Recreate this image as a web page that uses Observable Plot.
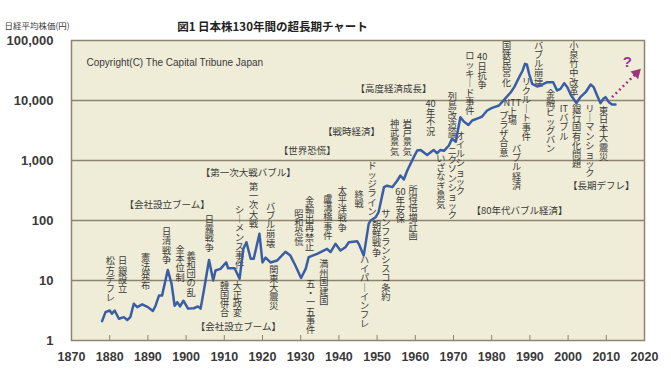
<!DOCTYPE html>
<html>
<head>
<meta charset="utf-8">
<script src="https://cdn.jsdelivr.net/npm/d3@7"></script>
<script src="https://cdn.jsdelivr.net/npm/@observablehq/plot@0.6"></script>
<style>
  html, body { margin: 0; padding: 0; background: #ffffff; }
  #chart svg { display: block; }
</style>
</head>
<body>
<div id="chart"></div>
<script>
// ---- series: Nikkei-style long-term index (yen) ----
const years = [1878.0,1878.9,1880.0,1880.6,1881.3,1882.4,1883.7,1884.6,1885.4,1886.3,1887.2,1888.5,1890.0,1891.3,1892.0,1892.9,1893.7,1895.2,1896.2,1897.0,1897.7,1898.4,1899.3,1900.5,1902.0,1903.1,1903.8,1904.8,1906.0,1907.1,1907.7,1909.0,1910.5,1911.0,1912.7,1914.0,1915.0,1915.8,1916.9,1917.7,1919.2,1920.0,1920.8,1922.1,1923.8,1926.0,1927.3,1928.6,1930.1,1931.3,1932.1,1934.3,1936.9,1937.8,1939.1,1940.4,1941.7,1942.6,1944.8,1945.2,1946.5,1947.8,1948.3,1949.6,1950.4,1951.8,1952.6,1954.0,1955.3,1956.1,1957.0,1957.9,1959.6,1960.5,1961.4,1963.1,1964.8,1965.7,1966.6,1967.5,1968.8,1969.6,1970.6,1971.8,1972.7,1973.9,1974.9,1976.7,1977.5,1978.8,1980.1,1981.9,1982.7,1985.0,1985.9,1987.2,1988.1,1988.7,1989.2,1989.8,1990.6,1991.9,1992.8,1994.5,1996.1,1997.1,1998.0,1999.0,1999.8,2000.8,2002.2,2003.2,2004.6,2005.9,2006.7,2007.6,2008.5,2009.2,2009.8,2010.7,2011.5,2012.4];
const values = [2.1,2.97,3.16,2.8,3.16,2.3,2.45,2.2,2.45,4.1,3.6,4.0,3.6,3.1,3.8,5.6,5.6,15,8.8,3.8,4.35,3.7,4.6,3.4,3.45,3.7,3.4,7.7,22,10,14.7,15.6,20,16,16,10.7,34,43.5,23,23,60,20,24,20,21.5,30,26,17.8,11,15.6,24.5,27.8,33.7,29.6,40.8,31.6,35.9,43.5,45,40.8,26,88,100,113,138,360,380,360,464,562,482,681,1137,1468,1500,1240,1500,1320,1500,1450,1778,2300,2050,5270,4450,3900,4640,5140,5410,6810,7550,8250,9370,13750,16680,24500,31600,40800,40000,27800,18970,17100,17780,20200,20200,14680,15650,19450,16680,12110,9030,11370,13750,18470,16680,12110,9030,10670,11370,9370,8580,8580];

// ---- axes ----
const xTicks = [1870,1880,1890,1900,1910,1920,1930,1940,1950,1960,1970,1980,1990,2000,2010,2020];
const yTicks = [1,10,100,1000,10000,100000];
const gridTicks = [10,100,1000,10000];

// ---- texts ----
const titleText = "図1 日本株130年間の超長期チャート";
const yUnitText = "日経平均株価(円)";
const copyrightText = "Copyright(C) The Capital Tribune Japan";

// vertical event labels: label, year, log10(value) at top of column
const vLabels = ["松方デフレ","日銀設立","憲法発布","日清戦争","金本位制","義和団の乱","日露戦争","韓国併合","大正政変","シーメンス事件","第一次大戦","バブル崩壊","関東大震災","昭和恐慌","金輸出再禁止","五・一五事件","盧溝橋事件","満州国建国","太平洋戦争","終戦","ハイパーインフレ","ドッジライン","朝鮮戦争","サンフランシスコ条約","神武景気","岩戸景気","60年安保","所得倍増計画","40年不況","いざなぎ景気","列島改造論","ニクソンショック","オイルショック","ロッキード事件","40日抗争","国鉄民営化","プラザ合意","NTT上場","バブル経済","リクルート事件","バブル崩壊","金融ビッグバン","ITバブル","小泉竹中改革","銀行国有化問題","リーマンショック","東日本大震災"];
const vYears = [1880.2,1883.4,1889.4,1894.9,1898.4,1901.3,1906.1,1910.05,1913.4,1914.0,1917.7,1922.1,1923.0,1929.5,1932.3,1932.6,1937.1,1936.05,1940.9,1945.3,1946.7,1948.7,1949.9,1952.3,1954.6,1957.9,1956.1,1959.4,1964.0,1966.7,1969.7,1969.7,1971.8,1974.3,1977.5,1983.9,1983.2,1985.4,1986.5,1989.1,1992.3,1995.4,1998.9,2001.5,2002.2,2005.7,2009.3];
const vExps = [1.378,1.378,1.433,1.862,1.567,1.472,2.067,0.972,0.972,2.233,2.617,2.288,1.242,2.167,2.388,1.0,2.417,1.333,2.555,2.49,1.4,2.972,1.983,2.167,3.667,3.667,2.542,2.567,4.0,3.083,4.112,3.217,3.472,4.805,4.778,4.972,3.805,4.017,3.25,4.375,4.972,4.167,3.917,4.972,3.917,3.917,3.888];

// horizontal era labels: label, year (centre), log10(value) (centre)
const hLabels = ["【会社設立ブーム】","【会社設立ブーム】","【第一次大戦バブル】","【世界恐慌】","【戦時経済】","【高度経済成長】","【80年代バブル経済】","【長期デフレ】"];
const hYears = [1895.05,1913.7,1916.3,1931.7,1943.3,1954.3,1987.3,2008.7];
const hExps = [2.267,0.233,2.788,3.167,3.472,4.195,2.167,2.583];

// outlook arrow and question mark
const arrowFrom = [2011.5, 11350];
const arrowTo = [2017.9, 28500];
const questionAt = [2015.5, 4.638];

// ---- build ----
const series = years.map((yr, i) => ({year: yr, value: values[i]}));
function toVertical(s) {
  const tokens = s.match(/[A-Za-z0-9]+|./gu);
  return tokens.map(t => t === "ー" ? "｜" : t).join("\n");
}
const vData = vLabels.map((t, i) => ({text: toVertical(t), year: vYears[i], v: 10 ** vExps[i]}));
const hData = hLabels.map((t, i) => ({text: t, year: hYears[i], v: 10 ** hExps[i]}));

const frameColor = "#8b8570";
const ink = "#3a3a3a";
const cjk = "'Noto Sans CJK JP', 'Noto Sans', sans-serif";
const latin = "'Liberation Sans', Arial, sans-serif";

const chart = Plot.plot({
  width: 671,
  height: 373,
  marginLeft: 71,
  marginRight: 27,
  marginTop: 40,
  marginBottom: 33,
  x: {domain: [1870, 2020], label: null},
  y: {type: "log", domain: [1, 100000], label: null},
  style: {fontFamily: cjk, background: "#ffffff", overflow: "visible"},
  marks: [
    Plot.frame({fill: "#efecd7", stroke: "none"}),
    Plot.gridY(gridTicks, {stroke: frameColor, strokeOpacity: 1, strokeWidth: 1.5}),
    Plot.ruleX(xTicks.slice(1, -1), {stroke: frameColor, strokeWidth: 1, insetTop: 295}),
    Plot.frame({stroke: frameColor, strokeWidth: 1.5}),
    Plot.axisX(xTicks, {tickSize: 0, tickPadding: 12, tickFormat: d => String(d), fontSize: 12.5, fontWeight: "bold", fontFamily: latin, fill: ink, label: null}),
    Plot.axisY(yTicks, {tickSize: 0, tickPadding: 18, tickFormat: d3.format(","), fontSize: 13, fontWeight: "bold", fontFamily: latin, fill: ink, label: null}),
    Plot.text([copyrightText], {frameAnchor: "top-left", dx: 15, dy: 18, textAnchor: "start", fontSize: 10, fontFamily: latin, fill: ink}),
    Plot.text(vData, {x: "year", y: "v", text: "text", lineAnchor: "top", textAnchor: "middle", fontSize: 9.2, lineHeight: 1.0, fill: ink}),
    Plot.text(hData, {x: "year", y: "v", text: "text", lineAnchor: "middle", textAnchor: "middle", fontSize: 9.5, fill: ink}),
    Plot.line(series, {x: "year", y: "value", stroke: "#3a5ea6", strokeWidth: 2.5, strokeLinejoin: "round", curve: "linear"}),
    Plot.link([{x1: arrowFrom[0], y1: arrowFrom[1], x2: arrowTo[0], y2: arrowTo[1]}], {x1: "x1", y1: "y1", x2: "x2", y2: "y2", stroke: "#a0357e", strokeWidth: 2.5, strokeDasharray: "2,3"}),
    Plot.dot([{x: arrowTo[0], y: arrowTo[1]}], {x: "x", y: "y", symbol: "triangle", r: 4, fill: "#a0357e", stroke: "none", rotate: 45}),
    Plot.text([{x: questionAt[0], y: 10 ** questionAt[1]}], {x: "x", y: "y", text: () => "?", fontSize: 15, fontWeight: "bold", fontFamily: latin, fill: "#993399"}),
    Plot.text([titleText], {frameAnchor: "top-left", dx: 201, dy: -18, textAnchor: "middle", fontSize: 11.5, fontWeight: "bold", fill: "#222"}),
    Plot.text([yUnitText], {frameAnchor: "top-left", dx: -67, dy: -18, textAnchor: "start", fontSize: 8.5, fill: ink})
  ]
});
document.getElementById("chart").appendChild(chart);
</script>
</body>
</html>
